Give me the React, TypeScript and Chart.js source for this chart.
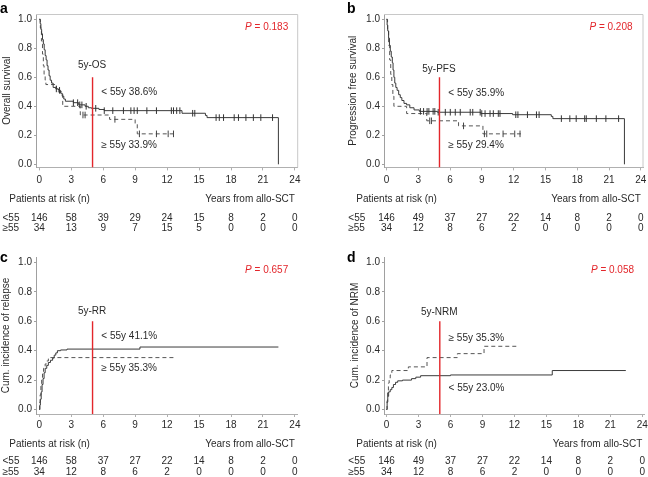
import React, { useEffect, useRef } from "react";
import { Chart, registerables } from "chart.js";

Chart.register(...registerables);

const FONT = '"Liberation Sans", Arial, Helvetica, sans-serif';
const RED = "#e3262b";
const INK = "#2a2a2a";

// ---- shared tick labels ----
const yearTicks = [0, 3, 6, 9, 12, 15, 18, 21, 24];
const probTicks = [0, 0.2, 0.4, 0.6, 0.8, 1.0];
const rowLabels = ["<55", "\u226555"];

type Pt = [number, number];

// ---- a: overall survival ----
const osLt55: Pt[] = [
  [0, 1], [0.08, 0.97], [0.15, 0.93], [0.22, 0.9], [0.3, 0.86], [0.38, 0.83], [0.46, 0.79],
  [0.55, 0.75], [0.64, 0.72], [0.73, 0.68], [0.82, 0.65], [0.92, 0.61], [1.02, 0.58],
  [1.15, 0.56], [1.3, 0.53], [1.55, 0.52], [1.8, 0.51], [2.0, 0.49], [2.15, 0.47], [2.3, 0.45],
  [2.45, 0.435], [3.2, 0.425], [3.7, 0.41], [4.3, 0.4], [4.6, 0.39], [4.9, 0.386], [5.6, 0.378],
  [6.1, 0.37], [13.4, 0.352], [15.6, 0.337], [15.75, 0.322], [22.45, 0],
];
const osGe55: Pt[] = [
  [0, 1], [0.1, 0.94], [0.2, 0.85], [0.3, 0.76], [0.38, 0.68], [0.45, 0.62], [0.55, 0.58],
  [0.62, 0.55], [1.6, 0.52], [1.75, 0.5], [2.2, 0.41], [2.35, 0.4], [3.85, 0.34], [6.6, 0.31],
  [9.0, 0.28], [9.2, 0.21], [12.7, 0.21],
];
const osCensLt55 = [
  1.6, 1.9, 3.2, 3.6, 3.8, 4.0, 4.4, 5.3, 6.1, 6.9, 7.9, 8.6, 8.9, 9.2, 10.1, 11.0, 12.4, 12.6,
  12.9, 13.2, 14.4, 14.6, 16.6, 16.9, 17.3, 18.3, 18.7, 19.4, 20.1, 20.8, 21.9,
];
const osCensGe55 = [4.1, 4.3, 7.1, 9.4, 11.0, 12.1, 12.6];
const osRiskLt55 = [146, 58, 39, 29, 24, 15, 8, 2, 0];
const osRiskGe55 = [34, 13, 9, 7, 15, 5, 0, 0, 0];

// ---- b: progression free survival ----
const pfsLt55: Pt[] = [
  [0, 1], [0.06, 0.96], [0.12, 0.92], [0.2, 0.87], [0.28, 0.82], [0.36, 0.78], [0.45, 0.74],
  [0.55, 0.7], [0.62, 0.65], [0.7, 0.6], [0.78, 0.56], [0.88, 0.53], [1.0, 0.51], [1.15, 0.48],
  [1.3, 0.46], [1.45, 0.44], [1.65, 0.42], [1.9, 0.41], [2.2, 0.39], [2.6, 0.375], [3.1, 0.365],
  [4.8, 0.359], [8.9, 0.35], [11.9, 0.342], [15.55, 0.33], [15.7, 0.315], [22.45, 0],
];
const pfsGe55: Pt[] = [
  [0, 1], [0.1, 0.92], [0.2, 0.82], [0.3, 0.72], [0.4, 0.62], [0.5, 0.55], [0.6, 0.47],
  [0.7, 0.4], [1.9, 0.35], [3.8, 0.3], [6.8, 0.265], [9.1, 0.21], [12.75, 0.21],
];
const pfsCensLt55 = [
  3.2, 3.5, 3.83, 4.0, 4.4, 4.56, 4.88, 5.55, 6.02, 6.49, 6.96, 7.9, 8.14, 8.84, 8.99, 9.3,
  9.77, 10.08, 10.55, 10.71, 12.2, 12.4, 13.3, 14.15, 14.4, 16.5, 17.3, 17.9, 18.7, 18.85,
  19.8, 20.7, 21.9,
];
const pfsCensGe55 = [4.08, 4.24, 7.27, 9.24, 9.46, 11.0, 12.1, 12.6];
const pfsRiskLt55 = [146, 49, 37, 27, 22, 14, 8, 2, 0];
const pfsRiskGe55 = [34, 12, 8, 6, 2, 0, 0, 0, 0];

// ---- c: cumulative incidence of relapse ----
const rrLt55: Pt[] = [
  [0, 0], [0.05, 0.03], [0.1, 0.07], [0.18, 0.12], [0.26, 0.17], [0.35, 0.21], [0.45, 0.25],
  [0.55, 0.28], [0.7, 0.3], [0.85, 0.32], [1.05, 0.335], [1.25, 0.35], [1.4, 0.37],
  [1.55, 0.385], [1.7, 0.4], [2.0, 0.405], [2.6, 0.411], [9.45, 0.425], [22.45, 0.425],
];
const rrGe55: Pt[] = [
  [0, 0], [0.04, 0.05], [0.08, 0.1], [0.15, 0.16], [0.22, 0.21], [0.3, 0.25], [0.4, 0.28],
  [0.55, 0.31], [0.7, 0.33], [0.85, 0.345], [0.95, 0.353], [12.7, 0.353],
];
const rrRiskLt55 = [146, 58, 37, 27, 22, 14, 8, 2, 0];
const rrRiskGe55 = [34, 12, 8, 6, 2, 0, 0, 0, 0];

// ---- d: cumulative incidence of NRM ----
const nrmLt55: Pt[] = [
  [0, 0], [0.06, 0.05], [0.12, 0.09], [0.2, 0.12], [0.35, 0.135], [0.5, 0.15], [0.65, 0.17],
  [0.85, 0.185], [1.05, 0.195], [1.5, 0.2], [2.35, 0.21], [2.75, 0.22], [3.2, 0.23],
  [6.0, 0.235], [15.55, 0.265], [22.45, 0.265],
];
const nrmGe55: Pt[] = [
  [0, 0], [0.05, 0.06], [0.1, 0.12], [0.18, 0.18], [0.25, 0.21], [0.35, 0.235], [0.5, 0.265],
  [2.05, 0.29], [3.8, 0.353], [6.65, 0.38], [9.15, 0.43], [12.45, 0.43],
];
const nrmRiskLt55 = [146, 49, 37, 27, 22, 14, 8, 2, 0];
const nrmRiskGe55 = [34, 12, 8, 6, 2, 0, 0, 0, 0];

const CUT_YEAR = 5;
const CUT_TOP = 0.6;

function stepAt(curve: Pt[], t: number) {
  let v = curve[0][1];
  for (const [x, y] of curve) {
    if (x <= t) v = y;
    else break;
  }
  return v;
}

const geoTop = {
  cy: 0, h: 245, top: 14, bottom: 167.4, y1px: 19.3, y0px: 164.3, xTickPad: 3.6,
  frame: true, letterY: 12.7, pY: 27.3, riskY: [199.3, 218.3, 228.5],
};
const geoBottom = {
  cy: 244, h: 233, top: 13, bottom: 170, y1px: 18.5, y0px: 165.5, xTickPad: 2,
  frame: false, letterY: 18, pY: 26.7, riskY: [200, 217.3, 228],
};
const geoLeft = {
  cx: 0, padL: 0, left: 36, right: 297.7, x0px: 39.3, pxYr: 10.65, letterX: 0,
  pRight: -6.7, patientsX: 9.3, rowX: 2.5,
};
const geoRight = {
  cx: 324, padL: 22, left: 60, right: 320.5, x0px: 62.5, pxYr: 10.66, letterX: 23,
  pRight: -8.3, patientsX: 32.3, rowX: 24.3,
};

const panels = [
  {
    letter: "a", yTitle: "Overall survival", pValue: "0.183", fiveLabel: "5y-OS",
    lt: osLt55, ge: osGe55, censLt: osCensLt55, censGe: osCensGe55,
    riskLt: osRiskLt55, riskGe: osRiskGe55,
    upper: "< 55y 38.6%", lower: "\u2265 55y 33.9%",
    geo: { ...geoTop, ...geoLeft, titleOff: 1, fiveY: 65, upperY: 92.7, lowerY: 145.7 },
  },
  {
    letter: "b", yTitle: "Progression free survival", pValue: "0.208", fiveLabel: "5y-PFS",
    lt: pfsLt55, ge: pfsGe55, censLt: pfsCensLt55, censGe: pfsCensGe55,
    riskLt: pfsRiskLt55, riskGe: pfsRiskGe55,
    upper: "< 55y 35.9%", lower: "\u2265 55y 29.4%",
    geo: { ...geoTop, ...geoRight, titleOff: 1.3, fiveY: 69, upperY: 93.3, lowerY: 145.7 },
  },
  {
    letter: "c", yTitle: "Cum. incidence of relapse", pValue: "0.657", fiveLabel: "5y-RR",
    lt: rrLt55, ge: rrGe55, censLt: [], censGe: [],
    riskLt: rrRiskLt55, riskGe: rrRiskGe55,
    upper: "< 55y 41.1%", lower: "\u2265 55y 35.3%",
    geo: { ...geoBottom, ...geoLeft, titleOff: 0.7, fiveY: 67.7, upperY: 92.7, lowerY: 124.3 },
  },
  {
    letter: "d", yTitle: "Cum. incidence of NRM", pValue: "0.058", fiveLabel: "5y-NRM",
    lt: nrmLt55, ge: nrmGe55, censLt: [], censGe: [],
    riskLt: nrmRiskLt55, riskGe: nrmRiskGe55,
    upper: "\u2265 55y 35.3%", lower: "< 55y 23.0%",
    geo: { ...geoBottom, ...geoRight, titleOff: 3.7, fiveY: 68, upperY: 94.3, lowerY: 144.3 },
  },
];

type PanelCfg = (typeof panels)[number];

function Panel({ cfg }: { cfg: PanelCfg }) {
  const ref = useRef<HTMLCanvasElement>(null);
  const g = cfg.geo;
  useEffect(() => {
    if (!ref.current) return;
    const xMin = (g.left - g.x0px) / g.pxYr;
    const xMax = (g.right - g.x0px) / g.pxYr;
    const span = g.y0px - g.y1px;
    const yMax = 1 + (g.y1px - g.top) / span;
    const yMin = -(g.bottom - g.y0px) / span;
    const font10 = { family: FONT, size: 10 };

    const toXY = (c: Pt[]) => c.map(([x, y]) => ({ x, y }));
    const cens = (c: Pt[], ts: number[]) => ts.map((t) => ({ x: t, y: stepAt(c, t) }));

    const overlay = {
      id: "overlay",
      afterDraw(chart: any) {
        const { ctx, chartArea: ca } = chart;
        const xs = chart.scales.x;
        const ys = chart.scales.y;
        ctx.save();
        if (g.frame) {
          ctx.strokeStyle = "#c8c8c8";
          ctx.lineWidth = 1;
          ctx.beginPath();
          ctx.moveTo(ca.left, ca.top + 0.5);
          ctx.lineTo(ca.right, ca.top + 0.5);
          ctx.lineTo(ca.right, ca.bottom);
          ctx.stroke();
        }
        // panel letter
        ctx.fillStyle = "#000";
        ctx.font = `bold 14px ${FONT}`;
        ctx.textAlign = "left";
        ctx.textBaseline = "alphabetic";
        ctx.fillText(cfg.letter, g.letterX, g.letterY);

        // P value
        ctx.textBaseline = "middle";
        ctx.fillStyle = RED;
        ctx.font = `italic 10px ${FONT}`;
        const wP = ctx.measureText("P").width;
        ctx.font = `10px ${FONT}`;
        const rest = " = " + cfg.pValue;
        const wR = ctx.measureText(rest).width;
        const pr = xs.getPixelForValue(24) + g.pRight;
        ctx.font = `italic 10px ${FONT}`;
        ctx.fillText("P", pr - wP - wR, g.pY);
        ctx.font = `10px ${FONT}`;
        ctx.fillText(rest, pr - wR, g.pY);

        // 5-year annotations
        const x5 = xs.getPixelForValue(CUT_YEAR);
        ctx.fillStyle = INK;
        ctx.textAlign = "center";
        ctx.fillText(cfg.fiveLabel, x5 - 0.5, g.fiveY);
        ctx.textAlign = "left";
        ctx.fillText(cfg.upper, x5 + 8.8, g.upperY);
        ctx.fillText(cfg.lower, x5 + 8.8, g.lowerY);

        // risk table
        ctx.fillText("Patients at risk (n)", g.patientsX, g.riskY[0]);
        ctx.textAlign = "right";
        ctx.fillText("Years from allo-SCT", xs.getPixelForValue(24), g.riskY[0]);
        const rows = [cfg.riskLt, cfg.riskGe];
        rows.forEach((vals, r) => {
          ctx.textAlign = "left";
          ctx.fillText(rowLabels[r], g.rowX, g.riskY[r + 1]);
          ctx.textAlign = "center";
          vals.forEach((v, i) => {
            ctx.fillText(String(v), xs.getPixelForValue(yearTicks[i]), g.riskY[r + 1]);
          });
        });
        ctx.restore();
      },
    };

    const chart = new Chart(ref.current, {
      type: "line",
      data: {
        datasets: [
          {
            label: "5y",
            data: [{ x: CUT_YEAR, y: CUT_TOP }, { x: CUT_YEAR, y: yMin }],
            borderColor: RED,
            borderWidth: 1.4,
            pointRadius: 0,
          },
          {
            label: "censor <55",
            data: cens(cfg.lt, cfg.censLt),
            showLine: false,
            pointStyle: "line",
            rotation: 90,
            pointRadius: 3.3,
            pointBorderWidth: 1,
            pointBorderColor: "#333",
            borderColor: "#333",
          },
          {
            label: "censor >=55",
            data: cens(cfg.ge, cfg.censGe),
            showLine: false,
            pointStyle: "line",
            rotation: 90,
            pointRadius: 3.3,
            pointBorderWidth: 1,
            pointBorderColor: "#444",
            borderColor: "#444",
          },
          {
            label: "<55",
            data: toXY(cfg.lt),
            stepped: true,
            borderColor: "#3a3a3a",
            borderWidth: 1,
            pointRadius: 0,
          },
          {
            label: ">=55",
            data: toXY(cfg.ge),
            stepped: true,
            borderColor: "#555",
            borderWidth: 1,
            borderDash: [4, 3],
            pointRadius: 0,
          },
        ],
      },
      options: {
        animation: false,
        responsive: false,
        maintainAspectRatio: false,
        devicePixelRatio: 1,
        layout: {
          padding: { left: g.padL, right: 324 - g.right, top: g.top, bottom: g.h - 20 - g.bottom },
        },
        plugins: { legend: { display: false }, tooltip: { enabled: false } },
        scales: {
          x: {
            type: "linear",
            min: xMin,
            max: xMax,
            afterBuildTicks: (s: any) => {
              s.ticks = yearTicks.map((v) => ({ value: v }));
            },
            afterFit: (s: any) => {
              s.height = 20;
              s.paddingLeft = 0;
              s.paddingRight = 0;
            },
            grid: { drawOnChartArea: false, drawTicks: true, tickLength: 3, color: "#b0b0b0" },
            border: { display: true, color: "#b0b0b0", width: 1 },
            ticks: {
              padding: g.xTickPad,
              font: font10,
              color: INK,
              autoSkip: false,
              maxRotation: 0,
              callback: (v: any) => String(v),
            },
          },
          y: {
            type: "linear",
            min: yMin,
            max: yMax,
            afterBuildTicks: (s: any) => {
              s.ticks = probTicks.map((v) => ({ value: v }));
            },
            afterFit: (s: any) => {
              s.width = g.left - g.padL;
              s.paddingTop = 0;
              s.paddingBottom = 0;
            },
            grid: { drawOnChartArea: false, drawTicks: true, tickLength: 2, color: "#a0a0a0" },
            border: { display: true, color: "#a0a0a0", width: 1, dash: [1, 1.5] },
            ticks: {
              padding: 2,
              font: font10,
              color: INK,
              callback: (v: any) => Number(v).toFixed(1),
            },
            title: {
              display: true,
              text: cfg.yTitle,
              font: font10,
              color: INK,
              padding: { top: g.titleOff, bottom: 0 },
            },
          },
        },
      },
      plugins: [overlay],
    } as any);
    return () => chart.destroy();
  }, []);
  return (
    <canvas
      ref={ref}
      width={324}
      height={g.h}
      style={{ position: "absolute", left: g.cx, top: g.cy, width: 324, height: g.h }}
    />
  );
}

export default function App() {
  return (
    <div
      style={{
        position: "fixed",
        left: 0,
        top: 0,
        width: 648,
        height: 477,
        overflow: "hidden",
        background: "#fff",
      }}
    >
      {panels.map((p) => (
        <Panel key={p.letter} cfg={p} />
      ))}
    </div>
  );
}
